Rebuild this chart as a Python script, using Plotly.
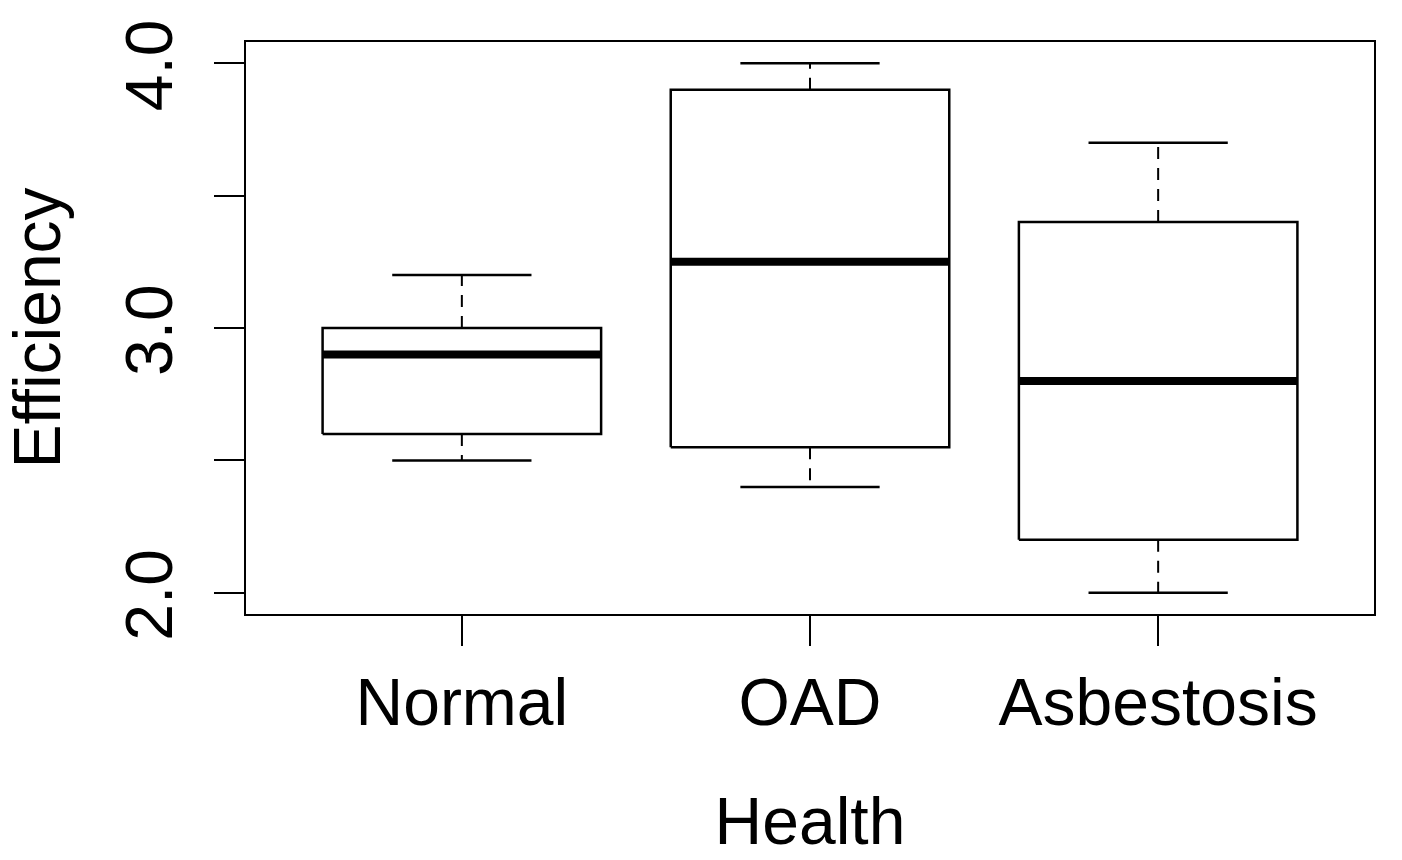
import plotly.graph_objects as go

# box statistics
groups = ['Normal', 'OAD', 'Asbestosis']
lower = [2.5, 2.4, 2.0]
q1 = [2.6, 2.55, 2.2]
median = [2.9, 3.25, 2.8]
q3 = [3.0, 3.9, 3.4]
upper = [3.2, 4.0, 3.7]

y_ticks = [2.0, 2.5, 3.0, 3.5, 4.0]
y_ticktext = ['2.0', '', '3.0', '', '4.0']

FONT = 'Liberation Sans, Arial, sans-serif'
half_box = 0.4
half_cap = 0.2

fig = go.Figure()

for i, name in enumerate(groups):
    c = i + 1
    # box
    fig.add_trace(go.Scatter(
        x=[c - half_box, c + half_box, c + half_box, c - half_box, c - half_box],
        y=[q1[i], q1[i], q3[i], q3[i], q1[i]],
        mode='lines', line=dict(color='black', width=2.5),
        showlegend=False, hoverinfo='skip'))
    # whiskers (dashed)
    for a, b in [(q3[i], upper[i]), (q1[i], lower[i])]:
        fig.add_trace(go.Scatter(
            x=[c, c], y=[a, b], mode='lines',
            line=dict(color='black', width=2, dash='12px,9px'),
            showlegend=False, hoverinfo='skip'))
    # caps
    for v in [upper[i], lower[i]]:
        fig.add_trace(go.Scatter(
            x=[c - half_cap, c + half_cap], y=[v, v], mode='lines',
            line=dict(color='black', width=2.5),
            showlegend=False, hoverinfo='skip'))
    # median
    fig.add_trace(go.Scatter(
        x=[c - half_box, c + half_box], y=[median[i], median[i]], mode='lines',
        line=dict(color='black', width=8),
        name=name, showlegend=False))

fig.update_layout(
    width=1402, height=860,
    margin=dict(l=246, r=28, t=42, b=246),
    plot_bgcolor='white', paper_bgcolor='white',
    font=dict(family=FONT, size=66, color='black'),
    xaxis=dict(
        range=[0.38, 3.62], tickvals=[1, 2, 3], ticktext=groups,
        automargin=False,
        showgrid=False, zeroline=False,
        showline=True, mirror=True, linecolor='black', linewidth=2,
        ticks='outside', ticklen=30, tickwidth=2, tickcolor='black',
        title=dict(text='Health', standoff=60, font=dict(size=66)),
    ),
    yaxis=dict(
        range=[1.92, 4.08], tickvals=y_ticks, ticktext=y_ticktext,
        tickangle=-90, automargin=False,
        ticklabelstandoff=16, ticklabelshift=12,
        showgrid=False, zeroline=False,
        showline=True, mirror=True, linecolor='black', linewidth=2,
        ticks='outside', ticklen=30, tickwidth=2, tickcolor='black',
        title=dict(text='Efficiency', standoff=70, font=dict(size=66)),
    ),
)

# drop the default body margin so the figure sits at the page origin
fig.write_html("out.html", config={'displayModeBar': False},
               post_script="document.body.style.margin='0px';")
